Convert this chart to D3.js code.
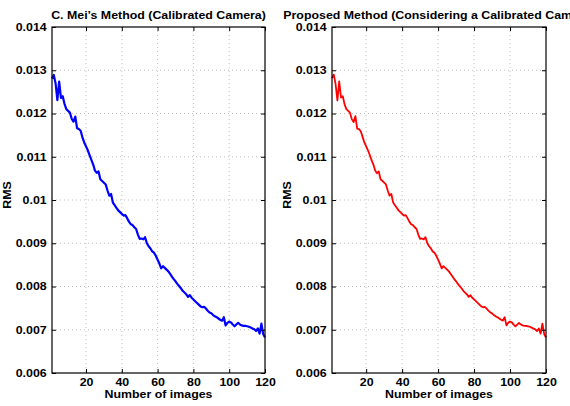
<!DOCTYPE html>
<html><head><meta charset="utf-8">
<script src="https://cdn.jsdelivr.net/npm/d3@7"></script>
<style>body{margin:0;background:#fff}svg{display:block}text{font-family:"Liberation Sans",Arial,sans-serif;font-weight:bold;fill:#000}</style>
</head><body>
<svg id="c" width="570" height="406"></svg>
<script>
const imageCounts = d3.range(1, 121);
const rmsMei = [
0.01281,0.01289,0.01270,0.01231,0.01274,0.01236,0.01240,0.01222,0.01210,0.01206,
0.01202,0.01188,0.01181,0.01193,0.01166,0.01164,0.01160,0.01145,0.01133,0.01124,
0.01115,0.01104,0.01093,0.01082,0.01068,0.01063,0.01066,0.01048,0.01044,0.01040,
0.01036,0.01022,0.01010,0.01014,0.00994,0.00988,0.00982,0.00976,0.00972,0.00968,
0.00964,0.00965,0.00958,0.00950,0.00944,0.00942,0.00937,0.00933,0.00920,0.00910,
0.00911,0.00909,0.00914,0.00900,0.00893,0.00888,0.00881,0.00878,0.00871,0.00862,
0.00853,0.00842,0.00847,0.00843,0.00839,0.00835,0.00829,0.00823,0.00817,0.00812,
0.00806,0.00801,0.00796,0.00790,0.00786,0.00782,0.00776,0.00780,0.00774,0.00770,
0.00766,0.00762,0.00758,0.00754,0.00752,0.00753,0.00749,0.00744,0.00740,0.00738,
0.00734,0.00731,0.00729,0.00726,0.00723,0.00721,0.00729,0.00710,0.00716,0.00719,
0.00717,0.00712,0.00708,0.00712,0.00716,0.00712,0.00710,0.00709,0.00709,0.00708,
0.00707,0.00705,0.00703,0.00701,0.00697,0.00703,0.00691,0.00714,0.00690,0.00682];
const rmsProposed = [
0.01282,0.01290,0.01268,0.01230,0.01274,0.01237,0.01240,0.01221,0.01210,0.01206,
0.01202,0.01187,0.01180,0.01194,0.01165,0.01164,0.01159,0.01146,0.01133,0.01124,
0.01115,0.01104,0.01092,0.01082,0.01068,0.01062,0.01066,0.01048,0.01044,0.01040,
0.01036,0.01022,0.01010,0.01014,0.00994,0.00988,0.00982,0.00976,0.00972,0.00968,
0.00964,0.00965,0.00958,0.00950,0.00944,0.00942,0.00937,0.00933,0.00920,0.00910,
0.00911,0.00909,0.00914,0.00900,0.00893,0.00888,0.00881,0.00878,0.00871,0.00862,
0.00853,0.00842,0.00847,0.00843,0.00839,0.00835,0.00829,0.00823,0.00817,0.00812,
0.00806,0.00801,0.00796,0.00790,0.00786,0.00782,0.00776,0.00780,0.00774,0.00770,
0.00766,0.00762,0.00758,0.00754,0.00752,0.00753,0.00749,0.00744,0.00740,0.00738,
0.00734,0.00731,0.00729,0.00726,0.00723,0.00721,0.00729,0.00710,0.00716,0.00719,
0.00717,0.00712,0.00708,0.00712,0.00716,0.00712,0.00710,0.00709,0.00709,0.00708,
0.00707,0.00705,0.00703,0.00701,0.00697,0.00703,0.00691,0.00714,0.00690,0.00682];
const xTicks = [20, 40, 60, 80, 100, 120];
const yTicks = [0.006, 0.007, 0.008, 0.009, 0.010, 0.011, 0.012, 0.013, 0.014];
const yTickLabels = ["0.006","0.007","0.008","0.009","0.01","0.011","0.012","0.013","0.014"];
const titles = ["C. Mei\u2019s Method (Calibrated Camera)", "Proposed Method (Considering a Calibrated Camera)"];

const FS = 10.5, SX = 1.18;
const svg = d3.select("#c");
const panels = [
  {x0: 52, x1: 265, data: rmsMei, color: "#0000ff", width: 2.2, title: titles[0]},
  {x0: 332, x1: 546, data: rmsProposed, color: "#ff0000", width: 1.8, title: titles[1]}
];
const plotTop = 27, plotBottom = 373;

function label(g, x, y, txt, rot) {
  const t = g.append("g").attr("transform", `translate(${x},${y})` + (rot ? " rotate(-90)" : ""));
  t.append("text").attr("transform", `scale(${SX},1)`).attr("text-anchor", "middle")
    .attr("font-size", FS).text(txt);
}

panels.forEach(p => {
  const x = d3.scaleLinear().domain([1, 120]).range([p.x0, p.x1]);
  const y = d3.scaleLinear().domain([0.006, 0.014]).range([plotBottom, plotTop]);
  const g = svg.append("g");
  g.selectAll(".gx").data(xTicks.filter(t => t < 120)).join("line")
    .attr("x1", d => x(d)).attr("x2", d => x(d)).attr("y1", plotTop).attr("y2", plotBottom)
    .attr("stroke", "#b0b0b0").attr("stroke-width", 0.8).attr("stroke-dasharray", "1,3");
  g.selectAll(".gy").data(yTicks.slice(1, -1)).join("line")
    .attr("y1", d => y(d)).attr("y2", d => y(d)).attr("x1", p.x0).attr("x2", p.x1)
    .attr("stroke", "#b0b0b0").attr("stroke-width", 0.8).attr("stroke-dasharray", "1,3");
  const line = d3.line().x((d, i) => x(imageCounts[i])).y(d => y(d));
  g.append("path").datum(p.data).attr("d", line).attr("fill", "none")
    .attr("stroke", p.color).attr("stroke-width", p.width).attr("stroke-linejoin", "round");
  const ax = g.append("g").attr("transform", `translate(0,${plotBottom})`)
    .call(d3.axisBottom(x).tickValues(xTicks).tickSize(-4).tickPadding(6));
  const ay = g.append("g").attr("transform", `translate(${p.x0},0)`)
    .call(d3.axisLeft(y).tickValues(yTicks).tickSize(-4).tickPadding(4.5).tickFormat((d, i) => yTickLabels[i]));
  const axT = g.append("g").attr("transform", `translate(0,${plotTop})`)
    .call(d3.axisTop(x).tickValues(xTicks).tickSize(-4).tickFormat(""));
  const ayR = g.append("g").attr("transform", `translate(${p.x1},0)`)
    .call(d3.axisRight(y).tickValues(yTicks).tickSize(-4).tickFormat(""));
  [ax, ay, axT, ayR].forEach(a => {
    a.select(".domain").remove();
    a.selectAll("line").attr("stroke", "#000").attr("stroke-width", 1);
    a.selectAll("text").attr("font-size", FS).attr("font-family", "Liberation Sans, Arial, sans-serif")
      .attr("font-weight", "bold").attr("fill", "#000").attr("transform", `scale(${SX},1)`);
  });
  g.append("rect").attr("x", p.x0).attr("y", plotTop).attr("width", p.x1 - p.x0).attr("height", plotBottom - plotTop)
    .attr("fill", "none").attr("stroke", "#000").attr("stroke-width", 1.2);
  const cx = (p.x0 + p.x1) / 2;
  label(g, cx, 19, p.title, false);
  label(g, cx, 398, "Number of images", false);
  label(g, p.x0 - 41, 195, "RMS", true);
});
</script>
</body></html>
